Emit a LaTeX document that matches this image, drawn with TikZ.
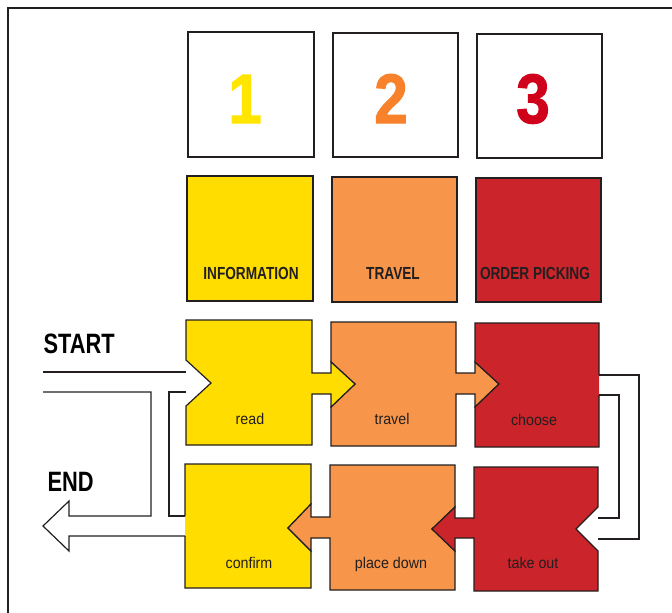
\documentclass[tikz,border=0pt]{standalone}
\usepackage{fontspec}
\setmainfont{Liberation Sans}
\newfontfamily\condreg[FakeStretch=0.92]{Liberation Sans}
\newfontfamily\condbold[FakeStretch=0.78]{Liberation Sans Bold}
\newfontfamily\condnum[FakeStretch=0.86,FakeBold=1.5]{Liberation Sans Bold}
\definecolor{ylw}{HTML}{FFDD00}
\definecolor{org}{HTML}{F7964A}
\definecolor{rd}{HTML}{CB242B}
\definecolor{numy}{HTML}{FFE500}
\definecolor{numo}{HTML}{F7822B}
\definecolor{numr}{HTML}{D0021B}
\definecolor{ink}{HTML}{231F20}
\tikzset{
  edge/.style={draw=ink, line width=1.2pt, line join=miter},
  numtxt/.style={font=\condnum\fontsize{70}{70}\selectfont, anchor=base},
  cattxt/.style={font=\condbold\fontsize{17.5}{18}\selectfont, text=ink, anchor=base},
  bigtxt/.style={font=\condbold\fontsize{28}{28}\selectfont, text=black, anchor=base west},
  steptxt/.style={font=\condreg\fontsize{15.5}{16}\selectfont, text=ink, anchor=base},
}
\begin{document}
\begin{tikzpicture}[x=1pt,y=-1pt]
\useasboundingbox (0,0) rectangle (672,613);
% frame
\draw[ink, line width=2pt] (8,613) -- (8,8) -- (672,8);

% number boxes
\draw[edge, fill=white] (188,32) rectangle (314,157);
\draw[edge, fill=white] (333,33) rectangle (458,157);
\draw[edge, fill=white] (477,34) rectangle (602,158);
\node[numtxt, text=numy] (n1) at (245,123) {1};
\node[numtxt, text=numo] (n2) at (391,123) {2};
\node[numtxt, text=numr] (n3) at (533,123) {3};

% category boxes
\draw[edge, fill=ylw] (187,176) rectangle (313,301);
\draw[edge, fill=org] (332,177) rectangle (457,302);
\draw[edge, fill=rd] (476,178) rectangle (601,302);
\node[cattxt] (c1) at (251,279) {INFORMATION};
\node[cattxt] (c2) at (393,279) {TRAVEL};
\node[cattxt] (c3) at (535,279) {ORDER PICKING};

% row 1
\draw[edge, fill=org] (331,322) -- (456,322) -- (456,373) -- (475,373) -- (475,362) -- (499,384) -- (475,407) -- (475,394) -- (456,394) -- (456,446) -- (331,446) -- (331,407) -- (355,384) -- (331,362) -- cycle;
\draw[edge, fill=ylw] (186,320) -- (312,320) -- (312,373) -- (331,373) -- (331,362) -- (355,384) -- (331,407) -- (331,394) -- (312,394) -- (312,445) -- (186,445) -- (186,406) -- (211,383) -- (186,360) -- cycle;
\fill[rd] (599,395) -- (599,447) -- (475,447) -- (475,407) -- (499,384) -- (475,362) -- (475,323) -- (599,323) -- cycle;
\draw[edge] (599,375) -- (599,323) -- (475,323) -- (475,362) -- (499,384) -- (475,407) -- (475,447) -- (599,447) -- (599,395);

% row 2
\fill[ylw] (185,464) -- (311,464) -- (311,504) -- (288,528) -- (311,551) -- (311,588) -- (185,588) -- cycle;
\draw[edge] (185,516) -- (185,464) -- (311,464) -- (311,504) -- (288,528) -- (311,551) -- (311,588) -- (185,588) -- (185,536);
\draw[edge, fill=org] (330,465) -- (455,465) -- (455,507) -- (432,529) -- (455,551) -- (455,590) -- (330,590) -- (330,538) -- (311,538) -- (311,551) -- (288,528) -- (311,504) -- (311,517) -- (330,517) -- cycle;
\draw[edge, fill=rd] (474,467) -- (598,467) -- (598,507) -- (576,529) -- (598,551) -- (598,591) -- (474,591) -- (474,538) -- (455,538) -- (455,551) -- (432,529) -- (455,507) -- (455,518) -- (474,518) -- cycle;

% START / END channels
\draw[edge] (43,372) -- (186,372);
\draw[edge] (43,392) -- (151,392) -- (151,516) -- (69,516) -- (69,501) -- (43,526) -- (69,551) -- (69,536) -- (185,536);
\draw[edge] (186,392) -- (169,392) -- (169,516) -- (185,516);
% loop on the right
\draw[edge] (599,375) -- (639,375) -- (639,539) -- (598,539);
\draw[edge] (599,395) -- (619,395) -- (619,518) -- (598,518);

\node[bigtxt] (start) at (40,353) {START};
\node[bigtxt] (end) at (44,491) {END};

\node[steptxt] (read) at (250,424) {read};
\node[steptxt] (travel) at (392,424) {travel};
\node[steptxt] (choose) at (534,425) {choose};
\node[steptxt] (confirm) at (249,568) {confirm};
\node[steptxt] (place) at (391,568) {place down};
\node[steptxt] (take) at (533,568) {take out};
\end{tikzpicture}
\end{document}
